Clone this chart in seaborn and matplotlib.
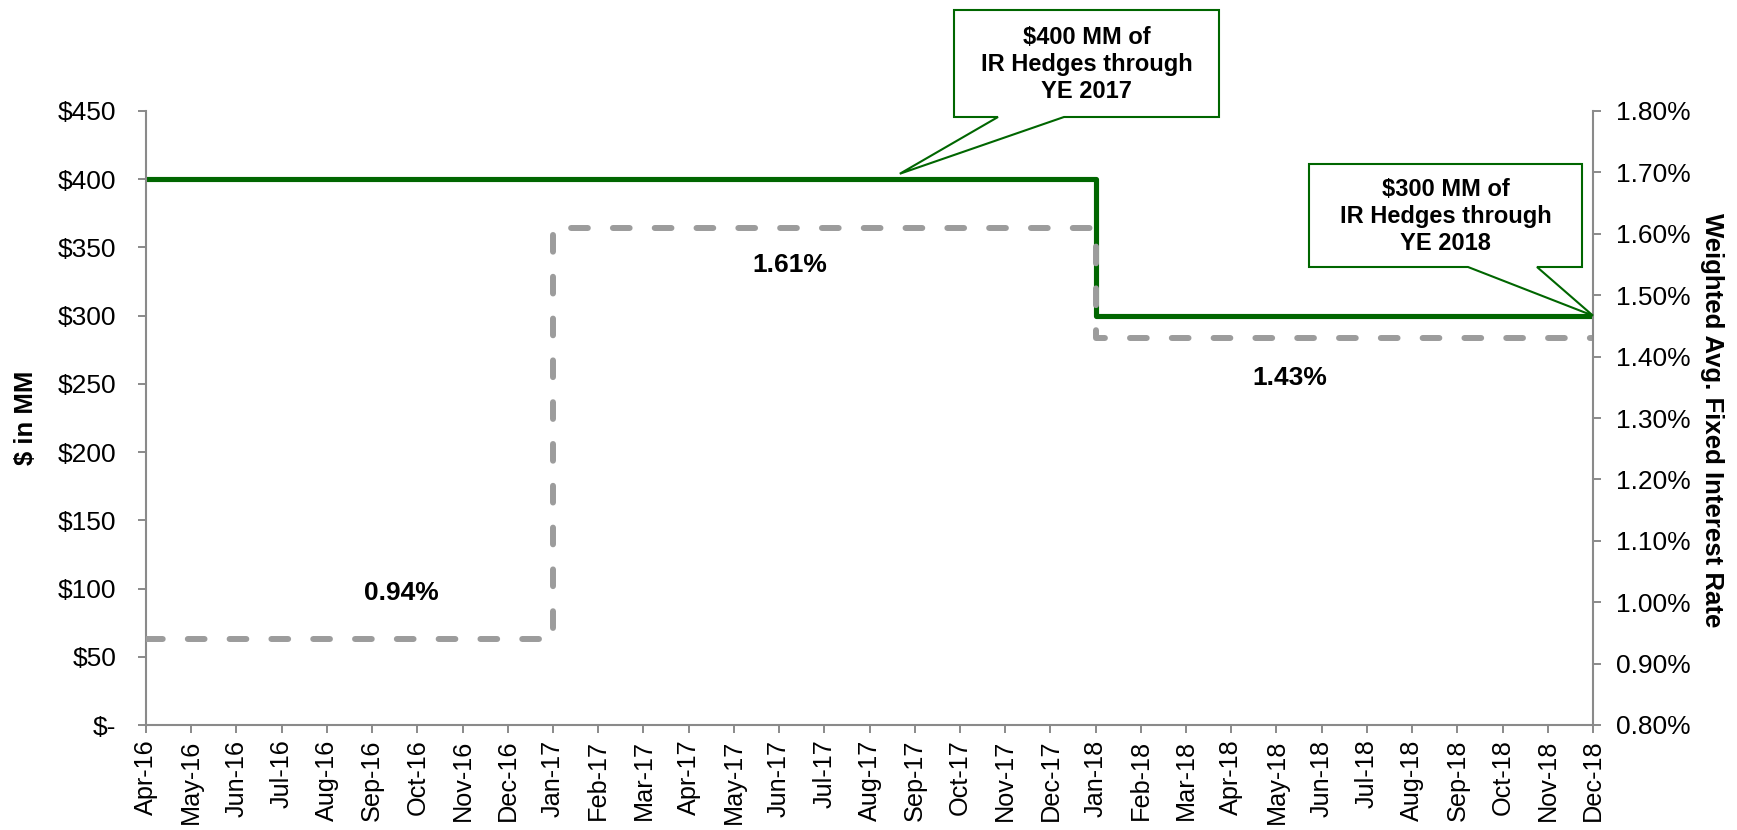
import pandas as pd
import seaborn as sns
import matplotlib.pyplot as plt
from matplotlib.patches import Polygon

# Month categories on the x axis
months = ["Apr-16", "May-16", "Jun-16", "Jul-16", "Aug-16", "Sep-16", "Oct-16", "Nov-16", "Dec-16",
          "Jan-17", "Feb-17", "Mar-17", "Apr-17", "May-17", "Jun-17", "Jul-17", "Aug-17", "Sep-17",
          "Oct-17", "Nov-17", "Dec-17", "Jan-18", "Feb-18", "Mar-18", "Apr-18", "May-18", "Jun-18",
          "Jul-18", "Aug-18", "Sep-18", "Oct-18", "Nov-18", "Dec-18"]

# Hedged notional ($MM), held from each start month
hedge_starts = ["Apr-16", "Jan-18"]
hedge_values = [400, 300]

# Weighted avg. fixed rate (%), held from each start month
rate_starts = ["Apr-16", "Jan-17", "Jan-18"]
rate_values = [0.94, 1.61, 1.43]

left_ticks = [0, 50, 100, 150, 200, 250, 300, 350, 400, 450]
right_ticks = [0.8, 0.9, 1.0, 1.1, 1.2, 1.3, 1.4, 1.5, 1.6, 1.7, 1.8]

callout_texts = ["$400 MM of\nIR Hedges through\nYE 2017", "$300 MM of\nIR Hedges through\nYE 2018"]


def step_frame(starts, values):
    idx = [months.index(s) for s in starts] + [len(months) - 1]
    vals = list(values) + [values[-1]]
    return pd.DataFrame({"x": idx, "y": vals})


W, H = 1737, 830
GREEN = "#006600"
GRAY = "#9c9c9c"
SPINE = "#8a8a8a"

sns.set_style("white")
plt.rcParams['font.family'] = ['Liberation Sans', 'DejaVu Sans']
plt.rcParams['text.color'] = 'black'
plt.rcParams['xtick.labelcolor'] = 'black'
plt.rcParams['ytick.labelcolor'] = 'black'

fig = plt.figure(figsize=(W / 100, H / 100), dpi=100)
ax = fig.add_axes([146 / W, 1 - 725 / H, (1593 - 146) / W, (725 - 111) / H])
ax2 = ax.twinx()

hedge_df = step_frame(hedge_starts, hedge_values)
rate_df = step_frame(rate_starts, rate_values)

sns.lineplot(data=hedge_df, x="x", y="y", ax=ax, color=GREEN, linewidth=3.7,
             drawstyle="steps-post", estimator=None, sort=False)
sns.lineplot(data=rate_df, x="x", y="y", ax=ax2, color=GRAY, linewidth=4.3,
             drawstyle="steps-post", estimator=None, sort=False)
gl = ax2.lines[0]
gl.set_dashes([2.8, 4.2])
gl.set_dash_capstyle("round")
ax.lines[0].set_solid_capstyle("butt")

ax.set_xlim(0, len(months) - 1)
ax.set_ylim(0, 450)
ax2.set_ylim(0.8, 1.8)
ax.set_xticks(range(len(months)))
ax.set_xticklabels(months, rotation=90)
ax.set_yticks(left_ticks)
ax.set_yticklabels(["$-" if v == 0 else f"${v}" for v in left_ticks])
ax2.set_yticks(right_ticks)
ax2.set_yticklabels([f"{v:.2f}%" for v in right_ticks])
ax.set_xlabel("")
ax.set_ylabel("")
ax2.set_ylabel("")

for a in (ax, ax2):
    for side in ("left", "right", "bottom"):
        a.spines[side].set_color(SPINE)
        a.spines[side].set_linewidth(1.5)
    a.spines["top"].set_visible(False)
ax.spines["right"].set_visible(False)
ax2.spines["left"].set_visible(False)
ax2.spines["bottom"].set_visible(False)

ax.tick_params(axis="y", direction="out", length=5.5, width=1.4, color=SPINE,
               labelsize=19, pad=16, left=True)
ax.tick_params(axis="x", direction="out", length=5.5, width=1.4, color=SPINE,
               labelsize=18.2, pad=5, bottom=True)
ax2.tick_params(axis="y", direction="out", length=5.5, width=1.4, color=SPINE,
                labelsize=19, pad=11, right=True)

# value labels for the rate segments
for xi, yv, txt in [(5.64, 1.015, "0.94%"), (14.24, 1.549, "1.61%"), (25.3, 1.365, "1.43%")]:
    ax2.text(xi, yv, txt, ha="center", va="center", fontsize=19, fontweight="bold")

fig.text(26 / W, 1 - 418 / H, "$ in MM", rotation=90, ha="center", va="center",
         fontsize=18.5, fontweight="bold")
fig.text(1712 / W, 1 - 420 / H, "Weighted Avg. Fixed Interest Rate", rotation=270,
         ha="center", va="center", fontsize=18.5, fontweight="bold")


def to_fig(px, py):
    return (px / W, 1 - py / H)


def callout(box, base, tip_data, text):
    x0, y0, x1, y1 = box
    tx, ty = ax.transData.transform(tip_data)
    tip = (tx / W * 100 / fig.dpi, ty / H * 100 / fig.dpi)
    pts = [to_fig(x0, y0), to_fig(x1, y0), to_fig(x1, y1), to_fig(base[1], y1), tip,
           to_fig(base[0], y1), to_fig(x0, y1)]
    fig.patches.append(Polygon(pts, closed=True, facecolor="white", edgecolor=GREEN,
                               linewidth=1.5, transform=fig.transFigure, zorder=5))
    cx, cy = to_fig((x0 + x1) / 2, (y0 + y1) / 2 + 1)
    fig.text(cx, cy, text, ha="center", va="center", fontsize=17, fontweight="bold",
             linespacing=1.2, zorder=6)


callout((954, 10, 1219, 117), (998, 1064), (16.67, 404), callout_texts[0])
callout((1309, 164, 1582, 267), (1468, 1537), (32, 300), callout_texts[1])

fig.savefig("out.png", dpi=100)
